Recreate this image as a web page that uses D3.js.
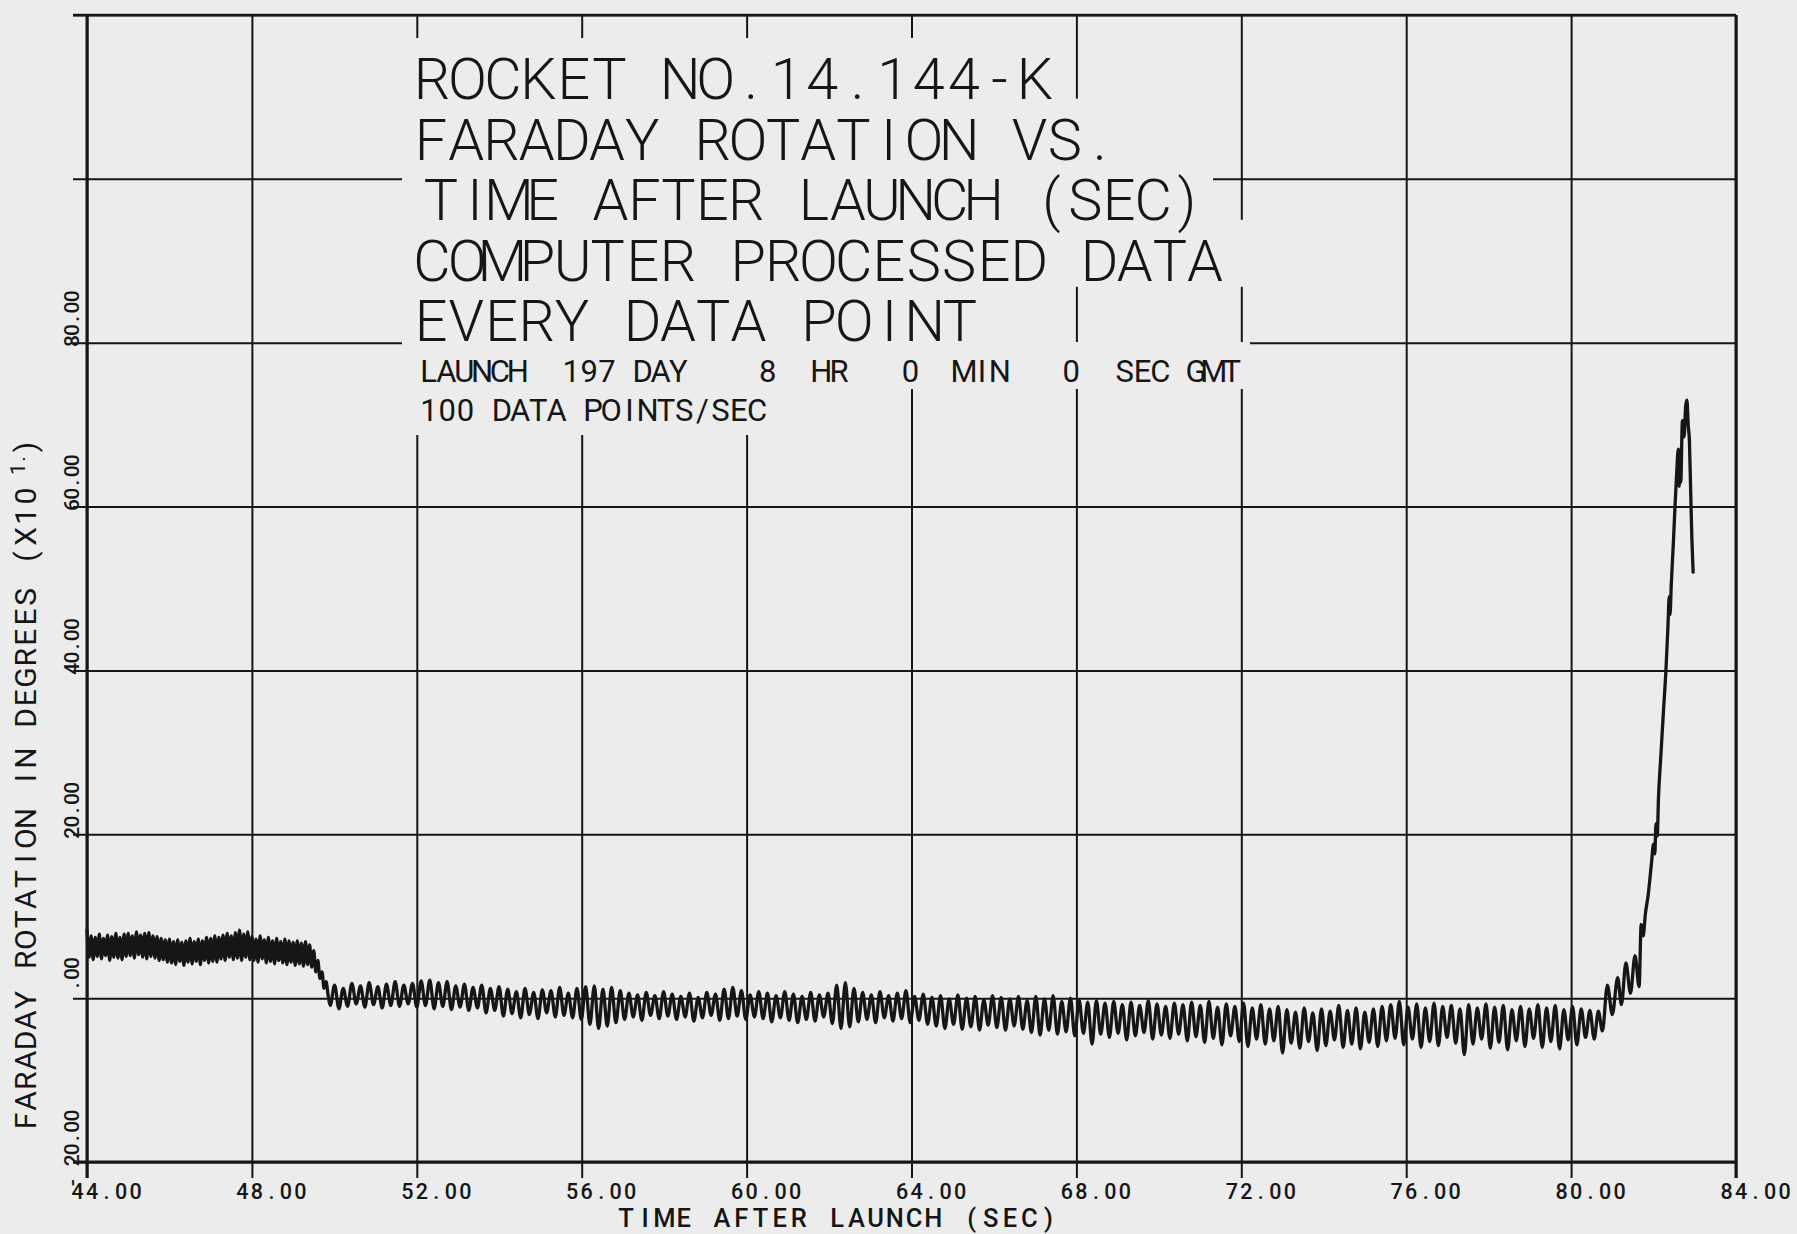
<!DOCTYPE html>
<html><head><meta charset="utf-8">
<script src="https://cdn.jsdelivr.net/npm/d3@7"></script>
<style>
html,body{margin:0;padding:0;background:#ececec;}
svg{display:block;}
</style></head><body>
<svg id="chart" width="1797" height="1234"></svg>
<script>
// ---------------- data ----------------
const xTickValues = [44, 48, 52, 56, 60, 64, 68, 72, 76, 80, 84];
const xTickLabels = ["44.00","48.00","52.00","56.00","60.00","64.00","68.00","72.00","76.00","80.00","84.00"];
const yTickValues = [-20, 0, 20, 40, 60, 80];
const yTickLabels = ["-20.00", ".00", "20.00", "40.00", "60.00", "80.00"];
const yGridValues = [-20, 0, 20, 40, 60, 80, 100, 120];

const titleLines = ["ROCKET NO. 14.144-K", "FARADAY ROTATION VS.", "TIME AFTER LAUNCH (SEC)", "COMPUTER PROCESSED DATA", "EVERY DATA POINT"];
const infoLines = ["LAUNCH  197 DAY    8  HR   0  MIN   0  SEC GMT", "100 DATA POINTS/SEC"];
const xTitle = "TIME AFTER LAUNCH (SEC)";
const yTitleMain = "FARADAY ROTATION IN DEGREES (X10";
const yTitleSup = "1.";
const yTitleEnd = ")";

// segment 1: 44.00 - 49.85 s, one value every 0.05 s (alternating high / low of the trace)
const seg1Start = 44.0, seg1Step = 0.05;
const seg1Values = [
  8.3, 5.0, 7.6, 4.7, 7.4, 5.1, 7.8, 4.8, 7.3, 5.2, 7.7, 4.6, 7.5, 5.0, 7.9, 4.9, 7.4, 4.7, 7.8, 5.1,
  7.9, 5.2, 7.6, 4.9, 8.1, 5.3, 7.7, 5.0, 7.9, 4.8, 8.0, 5.1, 7.6, 4.9, 7.5, 4.6, 7.3, 4.7, 7.1, 4.4,
  7.2, 4.3, 6.9, 4.1, 7.1, 4.5, 6.8, 4.0, 7.0, 4.4, 7.3, 4.2, 6.9, 4.5, 7.2, 4.1, 7.0, 4.6, 7.4, 4.3,
  7.3, 4.5, 7.6, 4.4, 7.4, 4.8, 7.7, 4.6, 7.9, 5.0, 7.6, 4.7, 8.0, 4.9, 8.3, 4.6, 7.8, 5.0, 8.1, 4.7,
  7.5, 4.6, 7.2, 4.4, 7.6, 4.8, 7.1, 4.3, 7.4, 4.5, 7.0, 4.2, 7.3, 4.6, 6.9, 4.3, 7.2, 4.1, 7.0, 4.4,
  6.8, 4.0, 7.0, 4.2, 6.7, 3.9, 6.9, 4.1, 6.5, 3.8, 5.8, 3.2, 4.6, 2.4, 3.2, 1.2, 2.0, 0.3
];
// segment 2: 49.90 - 80.56 s, troughs and peaks of the spin wobble, one every 0.105 s
const seg2Start = 49.9, seg2Step = 0.105;
const seg2Values = [
  -0.9, 1.6, -1.3, 1.2, -1.0, 1.8, -0.7, 1.5, -1.1, 1.9, -0.8, 1.4, -1.2, 1.7, -0.9, 2.0, -1.0, 1.6, -0.7, 1.8,
  -1.1, 2.1, -0.9, 2.2, -1.3, 1.9, -1.0, 2.0, -1.4, 1.5, -1.1, 1.7, -1.5, 1.3, -1.2, 1.6, -1.8, 1.2, -1.5, 1.4,
  -2.2, 1.1, -1.9, 0.8, -2.4, 1.2, -2.0, 0.7, -2.5, 1.0, -1.8, 0.9, -2.3, 1.3, -2.1, 0.6, -2.4, 1.2, -2.6, 1.4,
  -3.2, 1.5, -3.7, 1.1, -3.4, 1.3, -3.0, 0.9, -2.6, 0.6, -2.3, 0.4, -2.7, 0.7, -2.1, 0.3, -2.5, 0.8, -2.2, 0.5,
  -2.6, 0.2, -2.3, 0.6, -2.8, 0.1, -2.4, 0.7, -2.1, 0.5, -2.7, 1.1, -2.5, 1.3, -2.2, 0.9, -2.6, 0.4, -2.3, 0.8,
  -2.5, 0.6, -2.9, 0.3, -2.4, 0.8, -2.7, 0.5, -3.0, 0.2, -2.6, 0.7, -2.8, 0.4, -2.3, 0.6, -3.1, 1.6, -3.7, 1.9,
  -3.5, 1.2, -2.9, 0.7, -2.6, 0.4, -3.0, 0.8, -2.4, 0.3, -2.8, 0.6, -2.5, 0.9, -3.0, 0.2, -2.7, 0.5, -3.2, 0.1,
  -3.4, 0.3, -3.7, -0.1, -3.2, 0.4, -3.8, 0.0, -3.5, 0.2, -3.9, -0.2, -3.3, 0.3, -3.6, 0.1, -3.9, -0.1, -3.4, 0.2,
  -3.8, -0.3, -4.2, 0.2, -4.5, -0.1, -3.9, 0.3, -4.4, -0.4, -4.1, 0.0, -4.6, -0.2, -4.3, -0.5, -5.6, -0.3, -4.4, -0.6,
  -4.8, -0.4, -4.3, -0.8, -5.1, -0.5, -4.6, -0.9, -4.2, -0.3, -5.0, -0.7, -4.5, -1.0, -4.9, -0.6, -4.4, -0.8, -5.2, -0.5,
  -4.7, -0.9, -5.4, -0.4, -4.9, -1.1, -5.7, -0.7, -4.6, -1.0, -5.3, -0.6, -5.9, -1.2, -5.0, -0.8, -5.6, -1.3, -5.2, -1.0,
  -6.7, -1.4, -5.5, -1.7, -6.1, -1.2, -5.3, -1.8, -6.4, -1.3, -5.8, -1.6, -5.1, -0.9, -6.0, -1.5, -5.6, -1.2, -6.2, -1.7,
  -5.4, -1.3, -5.9, -1.0, -5.2, -0.8, -4.9, -0.4, -5.7, -1.1, -5.0, -0.7, -6.0, -1.2, -5.3, -0.6, -5.8, -1.0, -4.8, -0.9,
  -5.5, -1.3, -6.9, -0.8, -5.6, -1.2, -5.0, -0.7, -6.1, -1.1, -5.4, -0.9, -6.3, -1.4, -5.2, -1.0, -5.9, -1.3, -4.9, -0.8,
  -6.0, -1.2, -5.3, -0.9, -6.2, -1.4, -5.1, -1.0, -5.7, -1.3, -4.8, -1.5, -5.0
];
// segment 3: final rise, explicit times
const seg3Times = [80.66, 80.76, 80.88, 81.00, 81.13, 81.22, 81.33, 81.44, 81.55, 81.65, 81.70, 81.75, 81.80, 81.87, 81.95,
  82.00, 82.03, 82.06, 82.09, 82.12, 82.17, 82.24, 82.30, 82.35, 82.38, 82.40, 82.43, 82.48, 82.52, 82.56, 82.60, 82.62,
  82.64, 82.66, 82.70, 82.74, 82.78, 82.81, 82.84, 82.87, 82.90, 82.93, 82.96];
const seg3Values = [-1.6, -4.0, 1.6, -2.0, 2.5, -0.8, 4.3, 0.6, 5.2, 1.4, 9.0, 7.6, 10.2, 12.6, 16.5,
  18.8, 17.6, 21.3, 19.8, 24.5, 29.0, 35.0, 40.0, 45.5, 49.0, 46.8, 50.5, 55.5, 60.0, 64.0, 67.0, 62.5,
  66.8, 63.0, 70.5, 68.5, 72.3, 73.0, 70.0, 68.0, 62.0, 56.0, 52.0];

// ---------------- layout ----------------
const W = 1797, H = 1234;
const L = 87, R = 1736, T = 15, B = 1162;
const paper = "#ececec", ink = "#161616";
const FAM = "Roboto, 'Open Sans', 'DejaVu Sans', sans-serif";

const x = d3.scaleLinear().domain([44, 84]).range([L, R]);
const y = d3.scaleLinear().domain([-20, 120]).range([B, T]);

const svg = d3.select("#chart");
svg.append("rect").attr("width", W).attr("height", H).attr("fill", paper);

// grid via axes
const grid = svg.append("g");
const gx = grid.append("g").attr("transform", `translate(0,${B})`)
  .call(d3.axisBottom(x).tickValues(xTickValues).tickSize(16).tickFormat(""));
gx.select(".domain").remove();
gx.selectAll(".tick line").attr("y1", 16).attr("y2", T - B)
  .attr("stroke", ink).attr("stroke-width", 2);

const gy = grid.append("g").attr("transform", `translate(${L},0)`)
  .call(d3.axisLeft(y).tickValues(yGridValues).tickSize(14).tickFormat(""));
gy.select(".domain").remove();
gy.selectAll(".tick line").attr("x1", -14).attr("x2", R - L)
  .attr("stroke", ink).attr("stroke-width", 2);

// frame
const frame = svg.append("g").attr("stroke", ink).attr("stroke-width", 3);
frame.append("line").attr("x1", L).attr("x2", L).attr("y1", T).attr("y2", B + 16);
frame.append("line").attr("x1", L - 14).attr("x2", R).attr("y1", B).attr("y2", B);
frame.append("line").attr("x1", R).attr("x2", R).attr("y1", T).attr("y2", B + 16);
frame.append("line").attr("x1", L - 14).attr("x2", R).attr("y1", T).attr("y2", T).attr("stroke-width", 2.5);

// blanked title area (plotter blanks the grid behind the lettering)
const bigBase = [99, 159.6, 220.2, 280.8, 341.4];
const bigRight = [1068, 1125, 1213, 1246, 994];
const masks = svg.append("g").attr("fill", paper);
bigBase.forEach((b, i) => {
  masks.append("rect").attr("x", 402).attr("y", b - 61).attr("width", bigRight[i] - 402).attr("height", 67);
});
masks.append("rect").attr("x", 408).attr("y", 342).attr("width", 1250 - 408).attr("height", 389 - 342);
masks.append("rect").attr("x", 412).attr("y", 386).attr("width", 776 - 412).attr("height", 435 - 386);

// data trace
const pts = [];
seg1Values.forEach((v, i) => pts.push([seg1Start + i * seg1Step, v]));
seg2Values.forEach((v, i) => pts.push([seg2Start + i * seg2Step, v]));
seg3Times.forEach((t, i) => pts.push([t, seg3Values[i]]));
const line = d3.line().x(d => x(d[0])).y(d => y(d[1])).curve(d3.curveMonotoneX);
svg.append("path").datum(pts).attr("d", line)
  .attr("fill", "none").attr("stroke", ink).attr("stroke-width", 3.3)
  .attr("stroke-linejoin", "round").attr("stroke-linecap", "round");

// ---------------- monospaced plotter-like lettering ----------------
const ctx = document.createElement("canvas").getContext("2d");
function glyphW(ch, size, wt) { ctx.font = `${wt} ${size}px ${FAM}`; return ctx.measureText(ch).width; }
// cells: optional cell index per character
function monoXs(str, c0, adv, size, wt, skip = [], cells = null) {
  const xs = []; let k = 0;
  for (let i = 0; i < str.length; i++) {
    const ch = str[i];
    if (skip.includes(i)) { xs.push(c0 + (k - 0.5) * adv); continue; }
    const kk = cells ? cells[i] : k;
    xs.push(c0 + kk * adv - glyphW(ch, size, wt) / 2);
    k++;
  }
  return xs;
}
function monoText(parent, str, c0, adv, size, wt, yb, skip = [], cells = null) {
  return parent.append("text")
    .attr("x", monoXs(str, c0, adv, size, wt, skip, cells).join(" "))
    .attr("y", yb).attr("font-size", size).attr("font-weight", wt)
    .style("white-space", "pre").text(str);
}

const txt = svg.append("g").attr("fill", ink).attr("font-family", FAM);

// big title lines: first glyph centre, last glyph centre
const bigC0 = [432, 431, 441, 432, 431];
const bigCN = [1035, 1100, 1187, 1205, 960];
const bigSkip = [[10], [], [], [], []];
titleLines.forEach((s, i) => {
  const cells = s.length - bigSkip[i].length;
  const adv = (bigCN[i] - bigC0[i]) / (cells - 1);
  monoText(txt, s, bigC0[i], adv, 57.5, 300, bigBase[i], bigSkip[i]);
});
// small info lines
monoText(txt, infoLines[0], 428.5, 17.85, 31, 400, 382);
monoText(txt, infoLines[1], 429, (757 - 429) / 18, 31, 400, 421);

// x tick labels
xTickValues.forEach((v, i) => {
  monoText(txt, xTickLabels[i], x(v) - 9.5, 14.5, 21.5, 500, 1199);
});
// x title
monoText(txt, xTitle, 626, 19.2, 25.5, 500, 1227);

// y tick labels (rotated); a leading minus sign sits two cells below the digits
yTickValues.forEach((v, i) => {
  const s = yTickLabels[i];
  const g = txt.append("g").attr("transform", `translate(79,0) rotate(-90)`);
  const adv = 11.2;
  const neg = s[0] === "-";
  const body = neg ? s.length - 1 : s.length;
  const mid = -(y(v) - 24);
  const c0 = mid - (body - 1) / 2 * adv;
  const cells = neg ? [-2].concat(d3.range(body)) : null;
  monoText(g, s, c0, adv, 21, 500, 0, [], cells);
});

// y title (rotated, with raised exponent)
const gt = txt.append("g").attr("transform", `translate(36,0) rotate(-90)`);
const yt = gt.append("text").attr("font-size", 30).attr("font-weight", 400).style("white-space", "pre");
yt.append("tspan").attr("x", monoXs(yTitleMain, -1121, 20.16, 30, 400).join(" ")).attr("y", 0).text(yTitleMain);
yt.append("tspan").attr("font-size", 21)
  .attr("x", [-469 - glyphW("1", 21, 400) / 2, -459 - glyphW(".", 21, 400) / 2].join(" "))
  .attr("y", -11).text(yTitleSup);
yt.append("tspan").attr("x", -447 - glyphW(")", 30, 400) / 2).attr("y", 0).text(yTitleEnd);
</script>
</body></html>
